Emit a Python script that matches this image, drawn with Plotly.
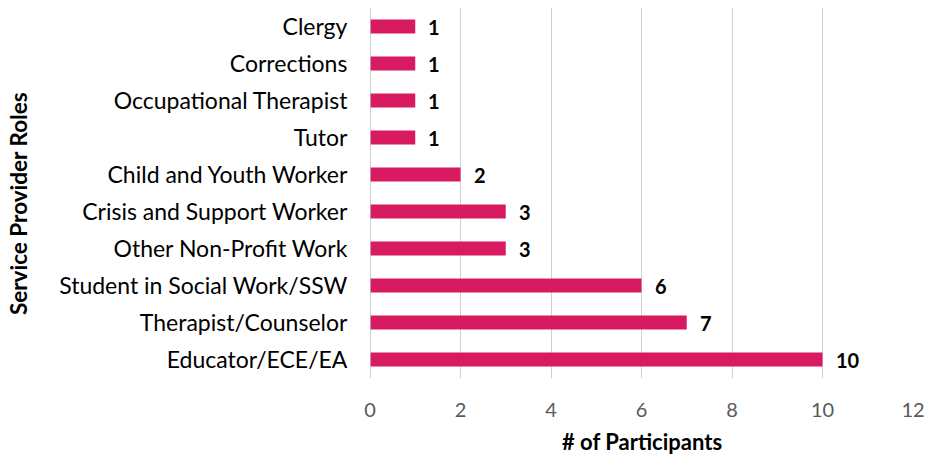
import plotly.graph_objects as go

roles = ["Clergy", "Corrections", "Occupational Therapist", "Tutor",
         "Child and Youth Worker", "Crisis and Support Worker",
         "Other Non-Profit Work", "Student in Social Work/SSW",
         "Therapist/Counselor", "Educator/ECE/EA"]
participants = [1, 1, 1, 1, 2, 3, 3, 6, 7, 10]
x_ticks = [0, 2, 4, 6, 8, 10, 12]

FONT = "Lato"
BAR = "#D81B60"

fig = go.Figure()
fig.add_trace(go.Bar(
    y=roles, x=participants, orientation="h",
    marker=dict(color=BAR, line=dict(width=0)),
    width=0.38,
    hoverinfo="x+y",
    cliponaxis=False,
))

annotations = []
for r, v in zip(roles, participants):
    annotations.append(dict(
        x=v, y=r, xref="x", yref="y", text=f"<b>{v}</b>", showarrow=False,
        xanchor="left", xshift=11, font=dict(family=FONT, size=20, color="#000000")))
annotations.append(dict(
    x=0, y=0.47, xref="paper", yref="paper", xshift=-352, text="<b>Service Provider Roles</b>",
    textangle=-90, showarrow=False, xanchor="center", yanchor="middle",
    font=dict(family=FONT, size=22.5, color="#000000")))
annotations.append(dict(
    x=0.5, y=0, xref="paper", yref="paper", yshift=-63, text="<b># of Participants</b>",
    showarrow=False, xanchor="center", yanchor="middle",
    font=dict(family=FONT, size=22, color="#000000")))

fig.update_layout(
    width=927, height=454,
    margin=dict(l=370, r=14, t=8, b=76, autoexpand=False),
    paper_bgcolor="white", plot_bgcolor="white",
    showlegend=False,
    annotations=annotations,
    xaxis=dict(
        range=[0, 12], tickvals=x_ticks, showgrid=True, gridcolor="#d0d0d0", gridwidth=1,
        zeroline=False, showline=False, automargin=False,
        tickfont=dict(family=FONT, size=20, color="#595959"),
        ticks="outside", ticklen=14, tickcolor="rgba(0,0,0,0)",
    ),
    yaxis=dict(
        categoryorder="array", categoryarray=roles[::-1],
        showgrid=False, zeroline=False, showline=False, automargin=False,
        tickfont=dict(family=FONT, size=23, color="#000000"),
        ticks="outside", ticklen=17, tickcolor="rgba(0,0,0,0)",
    ),
    shapes=[dict(type="line", xref="x", yref="paper", x0=0, x1=0, y0=0, y1=1,
                 line=dict(color="#bfbfbf", width=1.5))],
)

fig.write_html("out.html", config={"displayModeBar": False},
               post_script="document.body.style.margin='0';")
